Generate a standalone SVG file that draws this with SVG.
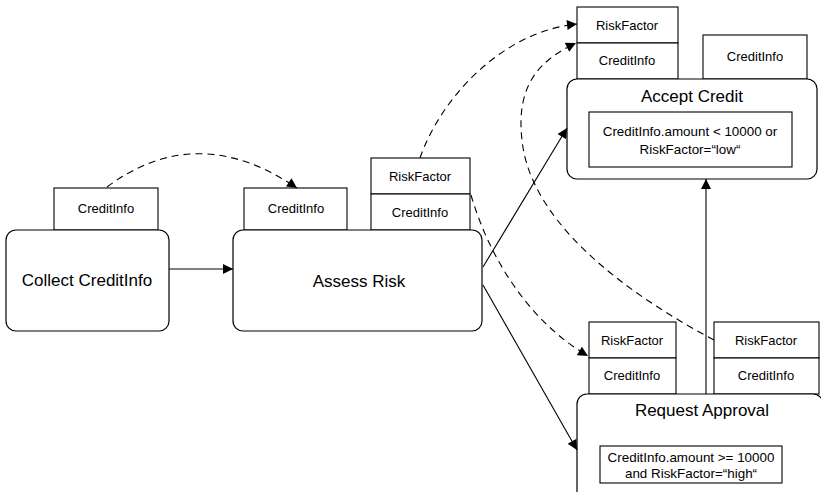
<svg xmlns="http://www.w3.org/2000/svg" width="821" height="492" viewBox="0 0 821 492">
<style>
.box{fill:#fff;stroke:#000;stroke-width:1.2}
.pin{fill:#fff;stroke:#000;stroke-width:1.1}
.t{font-family:"Liberation Sans",Arial,sans-serif;fill:#000;text-anchor:middle}
.s{font-size:13px}
.k{font-size:13.4px}
.l{font-size:17px}
.c{fill:none;stroke:#000;stroke-width:1.1}
.d{fill:none;stroke:#000;stroke-width:1.1;stroke-dasharray:7,5}
</style>
<defs>
<marker id="ah" viewBox="0 0 10 10" refX="10" refY="5" markerWidth="11" markerHeight="10" markerUnits="userSpaceOnUse" orient="auto">
<path d="M0,0 L10,5 L0,10 Z" fill="#000"/>
</marker>
</defs>
<g id="collect">
<rect class="pin" x="54" y="188" width="104" height="42"/>
<text class="t s" x="106" y="213">CreditInfo</text>
<rect class="box" x="6" y="230" width="163" height="101" rx="10"/>
<text class="t l" x="87" y="286">Collect CreditInfo</text>
</g>
<g id="assess">
<rect class="pin" x="244" y="188" width="103" height="42"/>
<text class="t s" x="296" y="213">CreditInfo</text>
<rect class="pin" x="371" y="158" width="99" height="36"/>
<text class="t s" x="420" y="181">RiskFactor</text>
<rect class="pin" x="371" y="194" width="99" height="36"/>
<text class="t s" x="420" y="217">CreditInfo</text>
<rect class="box" x="233" y="230" width="249" height="101" rx="10"/>
<text class="t l" x="359" y="287">Assess Risk</text>
</g>
<g id="accept">
<rect class="pin" x="577" y="7" width="101" height="36"/>
<text class="t s" x="627" y="30">RiskFactor</text>
<rect class="pin" x="577" y="43" width="101" height="36"/>
<text class="t s" x="627" y="65">CreditInfo</text>
<rect class="pin" x="703" y="35" width="104" height="44"/>
<text class="t s" x="755" y="61">CreditInfo</text>
<rect class="box" x="567" y="79" width="250" height="100" rx="10"/>
<text class="t l" x="692" y="102">Accept Credit</text>
<rect class="pin" x="589" y="112" width="203" height="55"/>
<text class="t k" x="690" y="136">CreditInfo.amount &lt; 10000 or</text>
<text class="t k" x="690" y="154">RiskFactor=“low“</text>
</g>
<g id="request">
<rect class="pin" x="589" y="322" width="87" height="36"/>
<text class="t s" x="632" y="345">RiskFactor</text>
<rect class="pin" x="589" y="358" width="87" height="36"/>
<text class="t s" x="632" y="380">CreditInfo</text>
<rect class="pin" x="714" y="322" width="105" height="36"/>
<text class="t s" x="766" y="345">RiskFactor</text>
<rect class="pin" x="714" y="358" width="105" height="36"/>
<text class="t s" x="766" y="380">CreditInfo</text>
<rect class="box" x="577" y="394" width="246" height="120" rx="10"/>
<text class="t l" x="702" y="416">Request Approval</text>
<rect class="pin" x="600" y="446" width="182" height="37"/>
<text class="t k" x="691" y="462">CreditInfo.amount &gt;= 10000</text>
<text class="t k" x="691" y="478">and RiskFactor=“high“</text>
</g>
<g id="connectors">
<path class="c" d="M169,269 L233,269" marker-end="url(#ah)"/>
<path class="c" d="M483,267 L567,128" marker-end="url(#ah)"/>
<path class="c" d="M483,285 L577,450" marker-end="url(#ah)"/>
<path class="c" d="M706,394 L706,179" marker-end="url(#ah)"/>
<path class="d" d="M107,187 Q197,120 297,188" marker-end="url(#ah)"/>
<path class="d" d="M420,158 C440,100 500,32 577,24" marker-end="url(#ah)"/>
<path class="d" d="M714,340 C620,290 530,220 522,140 C515,80 545,58 576,43" marker-end="url(#ah)"/>
<path class="d" d="M471,195 C490,260 530,322 588,356" marker-end="url(#ah)"/>
</g>
</svg>
